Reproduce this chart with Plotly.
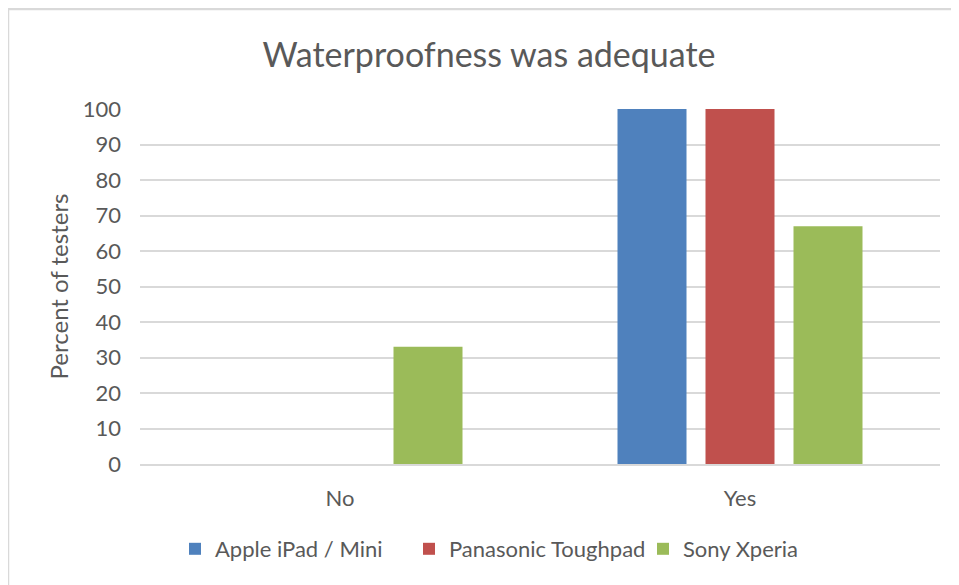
import plotly.graph_objects as go

categories = ["No", "Yes"]
series_names = ["Apple iPad / Mini", "Panasonic Toughpad", "Sony Xperia"]
apple = [0, 100]
panasonic = [0, 100]
sony = [33, 67]
colors = ["#4F81BD", "#C0504D", "#9BBB59"]
y_ticks = list(range(0, 101, 10))

FONT = "Lato, Carlito, Calibri, sans-serif"
TXT = "#595959"
GRID = "#D9D9D9"

fig = go.Figure()
for name, vals, col in zip(series_names, [apple, panasonic, sony], colors):
    fig.add_trace(go.Bar(x=categories, y=vals, name=name,
                         marker=dict(color=col, line=dict(width=0))))

# page body has an 8px margin; figure coordinates are screen minus 8
OFF = 8
W, H = 959 - OFF, 585 - OFF
L, R, T, B = 140 - OFF, 19, 109 - OFF, 121
pw, ph = W - L - R, H - T - B

def px_x(p):
    return (p - OFF - L) / pw

def px_y(p):
    return (H + OFF - B - p) / ph

fig.update_layout(
    width=W, height=H,
    margin=dict(l=L, r=R, t=T, b=B),
    paper_bgcolor="white", plot_bgcolor="white",
    font=dict(family=FONT, color=TXT, size=22),
    title=dict(text="Waterproofness was adequate", x=(489 - OFF) / W, xanchor="center",
               y=1 - (55 - OFF) / H, yanchor="middle", yref="container",
               font=dict(size=34, color=TXT, family=FONT)),
    barmode="group", bargap=0.34, bargroupgap=0.216,
    showlegend=True,
    legend=dict(orientation="h", x=px_x(526), xanchor="center",
                y=px_y(549), yanchor="middle", font=dict(size=22, color=TXT),
                itemwidth=30, traceorder="normal",
                entrywidth=189, entrywidthmode="pixels"),
    xaxis=dict(showgrid=False, showline=True, linecolor=GRID, linewidth=1.5,
               ticks="", ticklabelstandoff=14, tickfont=dict(size=22, color=TXT)),
    yaxis=dict(range=[0, 100], tickvals=y_ticks, showgrid=True, gridcolor=GRID,
               gridwidth=1.5, zeroline=False, showline=False, ticks="",
               ticklabelstandoff=18, tickfont=dict(size=22, color=TXT),
               title=dict(text="Percent of testers", standoff=7,
                          font=dict(size=24, color=TXT))),
    shapes=[
        dict(type="line", xref="paper", yref="paper", x0=px_x(7), x1=px_x(961),
             y0=px_y(9), y1=px_y(9), line=dict(color=GRID, width=2.5)),
        dict(type="line", xref="paper", yref="paper", x0=px_x(8), x1=px_x(8),
             y0=px_y(9), y1=px_y(590), line=dict(color=GRID, width=2.5)),
    ],
)

fig.write_html("out.html")
